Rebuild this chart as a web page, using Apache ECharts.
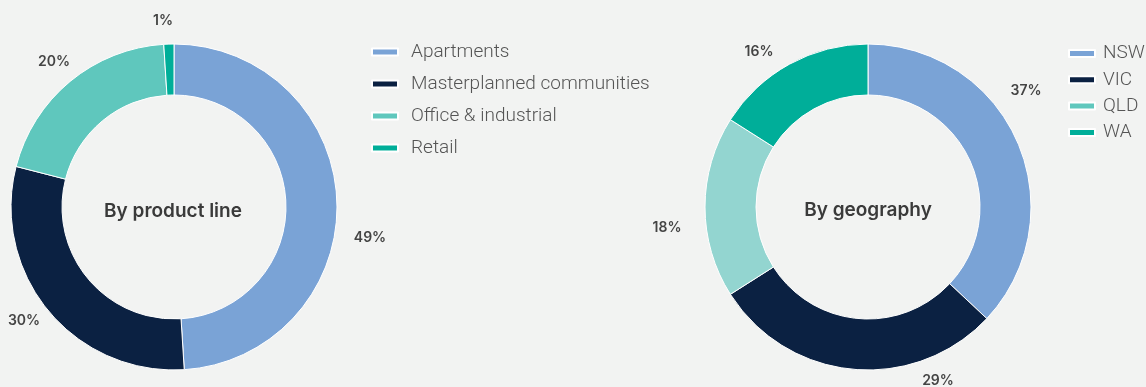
<!DOCTYPE html>
<html>
<head>
<meta charset="utf-8">
<script src="https://cdn.jsdelivr.net/npm/echarts@6/dist/echarts.min.js"></script>
<style>
html,body{margin:0;padding:0;background:#f2f3f2;}
#c{width:1146px;height:387px;}
</style>
</head>
<body>
<div id="c"></div>
<script>
// Data
const productCategories = ['Apartments', 'Masterplanned communities', 'Office & industrial', 'Retail'];
const productValues = [49, 30, 20, 1];
const geoCategories = ['NSW', 'VIC', 'QLD', 'WA'];
const geoValues = [37, 29, 18, 16];
const chartTitles = ['By product line', 'By geography'];

// Styling
const productColors = ['#7aa3d6', '#0b2142', '#5fc7bd', '#00ae99'];
const geoColors = ['#7aa3d6', '#0b2142', '#93d5d0', '#00ae99'];
const geoLegendColors = ['#7aa3d6', '#0b2142', '#5fc7bd', '#00ae99'];
const centers = [[174, 207], [868, 207]];
// label placement (offset from donut centre, px) per slice
const labelOffsets = [
  [[196, 31], [-150, 114], [-120, -145], [-11, -186]],
  [[158, -116], [70, 174], [-201, 21], [-109, -155]]
];

const chart = echarts.init(document.getElementById('c'));

const labelStyle = {
  show: true,
  position: 'outside',
  formatter: '{c}%',
  width: 60,
  fontFamily: 'Inter',
  fontSize: 14,
  fontWeight: 600,
  color: '#444444'
};

function makeData(cats, vals, colors) {
  return cats.map((n, i) => ({ name: n, value: vals[i], itemStyle: { color: colors[i] } }));
}

const titleText = { fontFamily: 'Inter', fontSize: 19, fontWeight: 600, color: '#3a3a3a' };

chart.setOption({
  backgroundColor: '#f2f3f2',
  animation: false,
  title: [
    { text: chartTitles[0], left: 173, top: 202, padding: 0, textAlign: 'center', textStyle: titleText },
    { text: chartTitles[1], left: 868, top: 201, padding: 0, textAlign: 'center', textStyle: titleText }
  ],
  legend: [
    { orient: 'vertical', left: 371, top: 42, padding: 0, itemWidth: 26, itemHeight: 7, itemGap: 12, icon: 'rect',
      textStyle: { fontFamily: 'Roboto', fontSize: 19, fontWeight: 300, color: '#555555', lineHeight: 20, padding: [0, 0, 0, 8] },
      data: productCategories, selectedMode: false },
    { orient: 'vertical', left: 1068, top: 43.5, padding: 0, itemWidth: 26, itemHeight: 7, itemGap: 6.3, icon: 'rect',
      textStyle: { fontFamily: 'Roboto', fontSize: 19, fontWeight: 300, color: '#555555', lineHeight: 20, padding: [0, 0, 0, 3] },
      selectedMode: false,
      data: geoCategories.map((n, i) => ({ name: n, itemStyle: { color: geoLegendColors[i] } })) }
  ],
  series: [0, 1].map(s => ({
    type: 'pie', center: centers[s], radius: [112, 163], startAngle: 90, clockwise: true,
    itemStyle: { borderColor: '#ffffff', borderWidth: 1 },
    label: labelStyle,
    labelLine: { show: false, length: 14, length2: 0 },
    labelLayout: p => {
      const o = labelOffsets[p.seriesIndex][p.dataIndex];
      return { x: centers[p.seriesIndex][0] + o[0], y: centers[p.seriesIndex][1] + o[1], align: 'center', verticalAlign: 'middle' };
    },
    emphasis: { disabled: true },
    data: s === 0 ? makeData(productCategories, productValues, productColors)
                  : makeData(geoCategories, geoValues, geoColors)
  }))
});
</script>
</body>
</html>
